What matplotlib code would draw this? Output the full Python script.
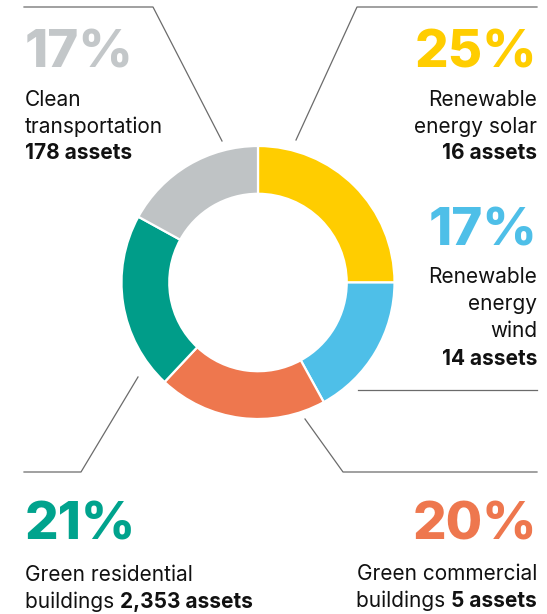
import matplotlib
matplotlib.use("Agg")
import matplotlib.pyplot as plt

plt.rcParams['font.family'] = ['Inter', 'DejaVu Sans']

# data, clockwise from 12 o'clock
categories = ["Renewable energy solar", "Renewable energy wind", "Green commercial buildings",
              "Green residential buildings", "Clean transportation"]
shares = [25, 17, 20, 21, 17]
assets = ["16 assets", "14 assets", "5 assets", "2,353 assets", "178 assets"]
pct_labels = ["25%", "17%", "20%", "21%", "17%"]
colors = ["#FFCD00", "#4EBFE8", "#EE774E", "#009D89", "#BFC3C5"]
pct_colors = ["#FFCD00", "#4EBFE8", "#EE774E", "#00A38D", "#C3C7C9"]

W, H = 547, 614
fig = plt.figure(figsize=(W / 100, H / 100), dpi=100)
ax = fig.add_axes([0, 0, 1, 1])
ax.set_xlim(0, W)
ax.set_ylim(H, 0)
ax.axis('off')

# donut
cx, cy, r = 258, 282.5, 136.5
pax = fig.add_axes([(cx - r) / W, (H - cy - r) / H, 2 * r / W, 2 * r / H])
pax.pie(shares, colors=colors, startangle=90, counterclock=False,
        wedgeprops=dict(width=0.35, edgecolor='white', linewidth=1.6))
pax.set_xlim(-1, 1)
pax.set_ylim(-1, 1)
pax.axis('off')

# leader lines
lc = dict(color='#6b6b6b', lw=0.9)
ax.plot([24, 153, 222], [7, 7, 141], **lc)
ax.plot([537, 357, 296], [7, 7, 140], **lc)
ax.plot([358, 537], [390, 390], **lc)
ax.plot([305, 343, 537], [419, 472, 472], **lc)
ax.plot([138, 81, 24], [377, 472, 472], **lc)

PCT = 38
LAB = 15
txt = '#111111'

fig.canvas.draw()
renderer = fig.canvas.get_renderer()


def width_px(s, weight):
    t = ax.text(0, 0, s, fontsize=LAB, fontweight=weight)
    w = t.get_window_extent(renderer).width
    t.remove()
    return w


def block(x, ha, pct_y, pct, pcol, lines, mixed=None):
    ax.text(x, pct_y, pct, fontsize=PCT, fontweight='heavy', color=pcol, ha=ha, va='baseline')
    for s, y, wt in lines:
        ax.text(x, y, s, fontsize=LAB, fontweight=wt, color=txt, ha=ha, va='baseline')
    if mixed:
        plain, bold, y = mixed
        if ha == 'left':
            ax.text(x, y, plain, fontsize=LAB, color=txt, ha='left', va='baseline')
            ax.text(x + width_px(plain, 'normal'), y, bold, fontsize=LAB, fontweight='bold',
                    color=txt, ha='left', va='baseline')
        else:
            ax.text(x, y, bold, fontsize=LAB, fontweight='bold', color=txt, ha='right', va='baseline')
            ax.text(x - width_px(bold, 'bold'), y, plain, fontsize=LAB, color=txt,
                    ha='right', va='baseline')


# clean transportation
block(25, 'left', 67, pct_labels[4], pct_colors[4],
      [("Clean", 106, 'normal'), ("transportation", 133, 'normal'), (assets[4], 159, 'bold')])
# solar
block(537, 'right', 67, pct_labels[0], pct_colors[0],
      [("Renewable", 106, 'normal'), ("energy solar", 133, 'normal'), (assets[0], 159, 'bold')])
# wind
block(537, 'right', 245, pct_labels[1], pct_colors[1],
      [("Renewable", 283, 'normal'), ("energy", 310, 'normal'), ("wind", 337, 'normal'),
       (assets[1], 365, 'bold')])
# residential
block(25, 'left', 540, pct_labels[3], pct_colors[3],
      [("Green residential", 581, 'normal')], mixed=("buildings ", assets[3], 608))
# commercial
block(537, 'right', 540, pct_labels[2], pct_colors[2],
      [("Green commercial", 580, 'normal')], mixed=("buildings ", assets[2], 607))

fig.savefig("out.png", dpi=100)
